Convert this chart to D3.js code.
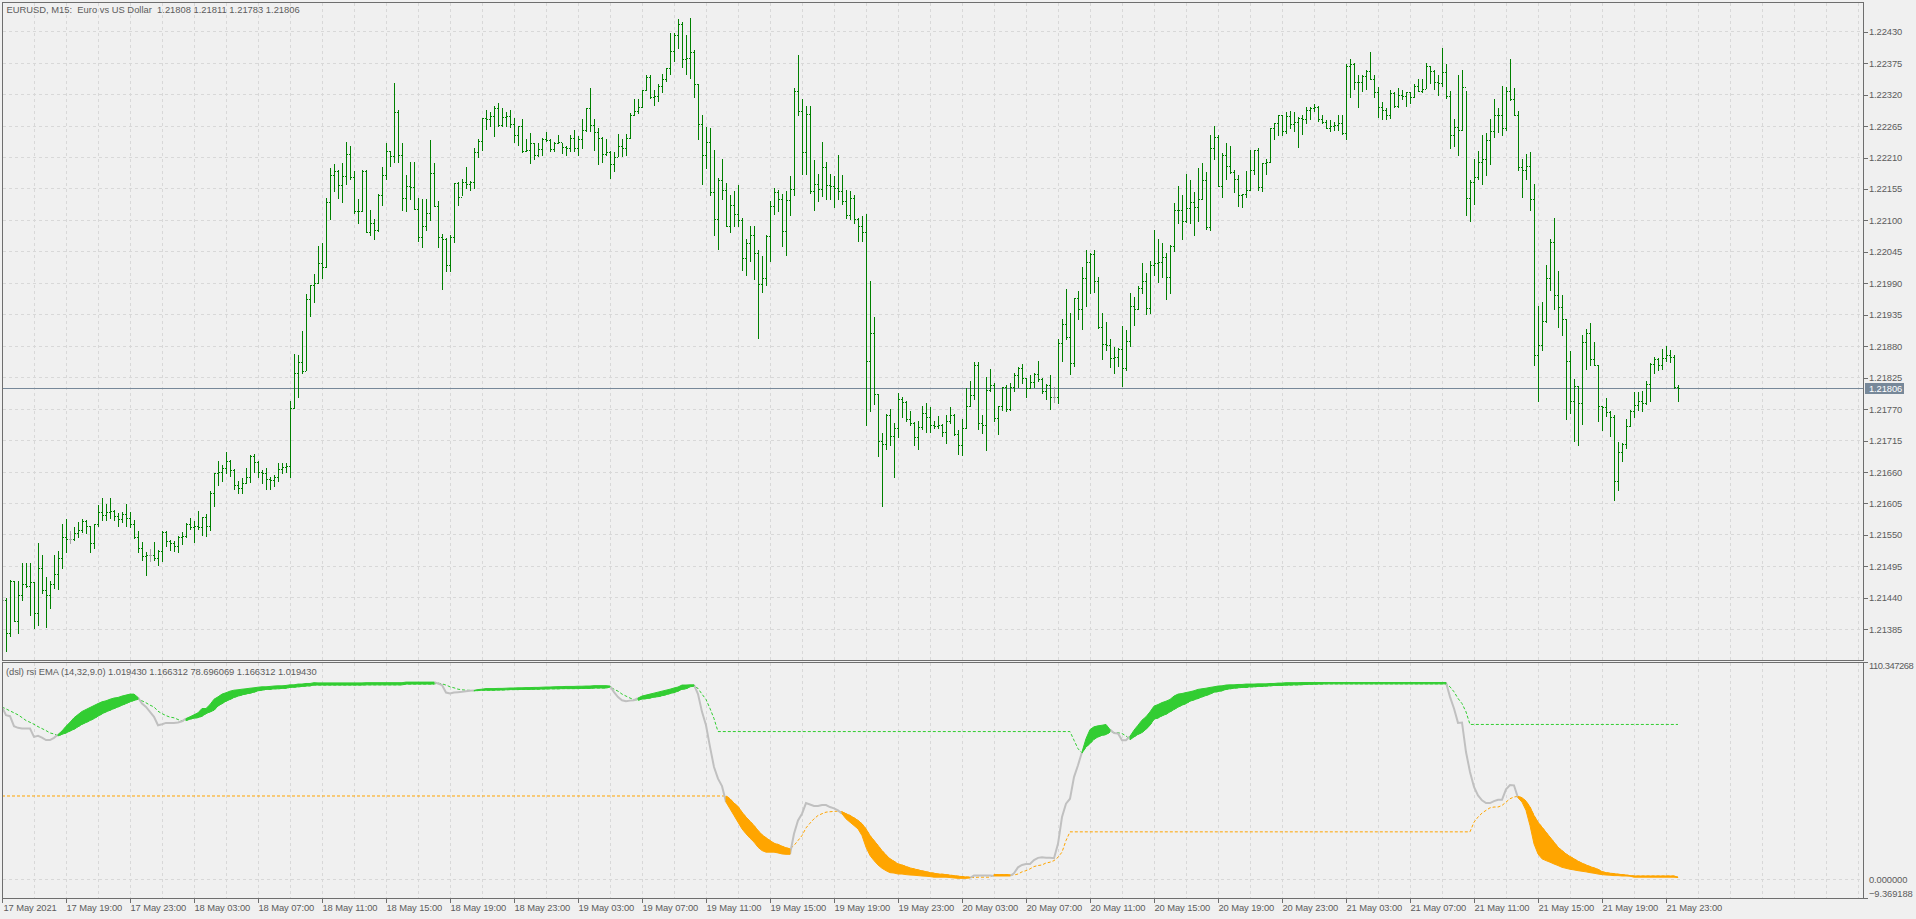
<!DOCTYPE html>
<html>
<head>
<meta charset="utf-8">
<title>EURUSD M15</title>
<script src="https://cdn.jsdelivr.net/npm/d3@7"></script>
<style>
  html, body { margin: 0; padding: 0; background: #f0f0f0; }
  svg { display: block; }
  text { font-family: "Liberation Sans", sans-serif; font-size: 9.4px; fill: #5c5c5c; letter-spacing: -0.1px; }
</style>
</head>
<body>
<svg id="chart" width="1916" height="919"></svg>
<script>
const chartTitle = "EURUSD, M15:  Euro vs US Dollar  1.21808 1.21811 1.21783 1.21806";
const indicatorTitle = "(dsl) rsi EMA (14,32,9.0) 1.019430 1.166312 78.696069 1.166312 1.019430";
const lastPrice = 1.21806;

const priceTicks = [1.2243, 1.22375, 1.2232, 1.22265, 1.2221, 1.22155, 1.221, 1.22045, 1.2199, 1.21935,
  1.2188, 1.21825, 1.2177, 1.21715, 1.2166, 1.21605, 1.2155, 1.21495, 1.2144, 1.21385];
const rsiTicks = [110.347268, 0, -9.369188];
const timeLabels = ["17 May 2021", "17 May 19:00", "17 May 23:00",
  "18 May 03:00", "18 May 07:00", "18 May 11:00", "18 May 15:00", "18 May 19:00", "18 May 23:00",
  "19 May 03:00", "19 May 07:00", "19 May 11:00", "19 May 15:00", "19 May 19:00", "19 May 23:00",
  "20 May 03:00", "20 May 07:00", "20 May 11:00", "20 May 15:00", "20 May 19:00", "20 May 23:00",
  "21 May 03:00", "21 May 07:00", "21 May 11:00", "21 May 15:00", "21 May 19:00", "21 May 23:00"];

// one value per M15 bar, first bar is 17 May 15:00 (sits under the left border)
const opens = [
1.21436,1.21436,1.21377,1.21468,1.21399,1.21444,1.21463,1.21459,1.21467,1.21412,
1.21491,1.21453,1.21444,1.21464,1.21481,1.21509,1.21545,1.21542,1.21542,1.21552,
1.21558,1.21573,1.21564,1.21535,1.21568,1.21590,1.21584,1.21590,1.21591,1.21582,
1.21577,1.21586,1.21579,1.21568,1.21545,1.21526,1.21512,1.21514,1.21514,1.21509,
1.21521,1.21555,1.21538,1.21535,1.21530,1.21546,1.21548,1.21568,1.21563,1.21564,
1.21563,1.21580,1.21564,1.21622,1.21657,1.21660,1.21666,1.21678,1.21662,1.21637,
1.21631,1.21640,1.21651,1.21688,1.21677,1.21660,1.21657,1.21647,1.21646,1.21650,
1.21664,1.21668,1.21669,1.21771,1.21832,1.21851,1.21835,1.21962,1.21986,1.21989,
1.22025,1.22018,1.22132,1.22179,1.22185,1.22161,1.22176,1.22216,1.22175,1.22115,
1.22116,1.22185,1.22079,1.22095,1.22082,1.22144,1.22179,1.22220,1.22211,1.22289,
1.22214,1.22139,1.22159,1.22158,1.22119,1.22070,1.22090,1.22112,1.22182,1.22125,
1.22070,1.22066,1.22021,1.22070,1.22164,1.22140,1.22167,1.22162,1.22167,1.22218,
1.22238,1.22278,1.22276,1.22281,1.22295,1.22266,1.22280,1.22281,1.22267,1.22248,
1.22264,1.22220,1.22223,1.22234,1.22213,1.22224,1.22242,1.22239,1.22224,1.22234,
1.22236,1.22227,1.22225,1.22244,1.22226,1.22241,1.22258,1.22296,1.22266,1.22253,
1.22244,1.22216,1.22219,1.22197,1.22210,1.22230,1.22225,1.22244,1.22284,1.22290,
1.22298,1.22328,1.22350,1.22315,1.22316,1.22335,1.22346,1.22366,1.22395,1.22423,
1.22443,1.22381,1.22383,1.22394,1.22337,1.22268,1.22213,1.22237,1.22148,1.22102,
1.22169,1.22153,1.22089,1.22126,1.22111,1.22100,1.22034,1.22060,1.22073,1.22042,
1.21988,1.21999,1.22072,1.22125,1.22148,1.22136,1.22081,1.22134,1.22154,1.22325,
1.22291,1.22219,1.22285,1.22150,1.22163,1.22154,1.22193,1.22161,1.22160,1.22156,
1.22151,1.22133,1.22108,1.22139,1.22101,1.22089,1.22079,1.21854,1.21903,1.21796,
1.21713,1.21708,1.21758,1.21722,1.21736,1.21786,1.21782,1.21751,1.21745,1.21720,
1.21738,1.21762,1.21755,1.21741,1.21740,1.21742,1.21729,1.21748,1.21759,1.21726,
1.21706,1.21736,1.21775,1.21793,1.21847,1.21745,1.21741,1.21803,1.21811,1.21753,
1.21775,1.21808,1.21770,1.21808,1.21828,1.21841,1.21824,1.21806,1.21816,1.21831,
1.21821,1.21801,1.21812,1.21790,1.21790,1.21884,1.21918,1.21895,1.21849,1.21963,
1.21944,1.21998,1.22026,1.22041,1.21994,1.21912,1.21883,1.21882,1.21859,1.21860,
1.21874,1.21841,1.21889,1.21949,1.21944,1.21981,1.21993,1.21946,1.22022,1.22025,
1.22026,1.22035,1.22000,1.22054,1.22117,1.22118,1.22098,1.22120,1.22132,1.22123,
1.22137,1.22169,1.22088,1.22226,1.22245,1.22160,1.22214,1.22195,1.22183,1.22172,
1.22143,1.22146,1.22153,1.22187,1.22222,1.22158,1.22200,1.22201,1.22261,1.22269,
1.22283,1.22255,1.22281,1.22268,1.22271,1.22278,1.22276,1.22293,1.22296,1.22298,
1.22276,1.22272,1.22261,1.22264,1.22266,1.22269,1.22252,1.22370,1.22373,1.22341,
1.22342,1.22351,1.22360,1.22347,1.22324,1.22298,1.22293,1.22283,1.22322,1.22299,
1.22319,1.22316,1.22324,1.22315,1.22335,1.22326,1.22329,1.22369,1.22361,1.22341,
1.22340,1.22359,1.22316,1.22249,1.22262,1.22257,1.22333,1.22139,1.22167,1.22175,
1.22202,1.22207,1.22239,1.22255,1.22284,1.22283,1.22261,1.22326,1.22312,1.22284,
1.22193,1.22188,1.22195,1.22137,1.21863,1.21881,1.21923,1.21998,1.22061,1.21968,
1.21948,1.21926,1.21853,1.21784,1.21809,1.21780,1.21886,1.21902,1.21857,1.21847,
1.21775,1.21772,1.21764,1.21755,1.21644,1.21694,1.21708,1.21740,1.21766,1.21777,
1.21784,1.21779,1.21813,1.21848,1.21856,1.21846,1.21858,1.21864,1.21861,1.21808];
const highs = [
1.21445,1.21439,1.21471,1.21468,1.21468,1.21500,1.21500,1.21500,1.21467,1.21535,
1.21514,1.21475,1.21468,1.21514,1.21521,1.21569,1.21577,1.21556,1.21563,1.21571,
1.21577,1.21575,1.21564,1.21569,1.21602,1.21614,1.21604,1.21614,1.21593,1.21587,
1.21590,1.21604,1.21589,1.21576,1.21556,1.21537,1.21520,1.21525,1.21537,1.21523,
1.21556,1.21556,1.21541,1.21538,1.21548,1.21554,1.21570,1.21579,1.21573,1.21591,
1.21581,1.21586,1.21626,1.21657,1.21679,1.21672,1.21694,1.21681,1.21665,1.21644,
1.21649,1.21666,1.21689,1.21691,1.21678,1.21662,1.21667,1.21651,1.21654,1.21675,
1.21675,1.21675,1.21784,1.21866,1.21863,1.21905,1.21971,1.21987,1.22005,1.22055,
1.22059,1.22139,1.22190,1.22197,1.22188,1.22199,1.22237,1.22230,1.22186,1.22136,
1.22187,1.22187,1.22118,1.22102,1.22146,1.22193,1.22235,1.22221,1.22340,1.22293,
1.22234,1.22179,1.22201,1.22202,1.22139,1.22137,1.22136,1.22239,1.22200,1.22133,
1.22076,1.22069,1.22074,1.22164,1.22166,1.22172,1.22193,1.22168,1.22226,1.22242,
1.22278,1.22293,1.22289,1.22300,1.22305,1.22296,1.22289,1.22293,1.22278,1.22264,
1.22276,1.22242,1.22252,1.22235,1.22234,1.22244,1.22254,1.22241,1.22237,1.22249,
1.22235,1.22230,1.22249,1.22258,1.22246,1.22276,1.22296,1.22331,1.22277,1.22261,
1.22245,1.22241,1.22220,1.22219,1.22251,1.22241,1.22250,1.22287,1.22311,1.22312,
1.22328,1.22354,1.22353,1.22328,1.22337,1.22356,1.22366,1.22427,1.22426,1.22452,
1.22446,1.22423,1.22453,1.22397,1.22338,1.22283,1.22263,1.22261,1.22223,1.22174,
1.22207,1.22165,1.22144,1.22151,1.22161,1.22104,1.22067,1.22090,1.22089,1.22047,
1.22037,1.22073,1.22133,1.22156,1.22153,1.22146,1.22151,1.22176,1.22331,1.22389,
1.22312,1.22300,1.22300,1.22204,1.22181,1.22237,1.22202,1.22181,1.22176,1.22213,
1.22179,1.22152,1.22151,1.22144,1.22104,1.22107,1.22111,1.21994,1.21930,1.21796,
1.21728,1.21761,1.21770,1.21745,1.21797,1.21790,1.21784,1.21766,1.21746,1.21749,
1.21774,1.21779,1.21772,1.21748,1.21757,1.21743,1.21759,1.21773,1.21761,1.21733,
1.21752,1.21806,1.21819,1.21852,1.21852,1.21758,1.21826,1.21839,1.21815,1.21775,
1.21808,1.21812,1.21814,1.21832,1.21843,1.21848,1.21824,1.21828,1.21832,1.21854,
1.21824,1.21813,1.21829,1.21808,1.21891,1.21926,1.21979,1.21937,1.21963,1.21976,
1.22017,1.22048,1.22042,1.22048,1.22001,1.21937,1.21921,1.21891,1.21877,1.21876,
1.21915,1.21908,1.21972,1.21966,1.21984,1.22024,1.22007,1.22028,1.22083,1.22067,
1.22060,1.22043,1.22057,1.22130,1.22160,1.22143,1.22181,1.22169,1.22149,1.22190,
1.22199,1.22183,1.22249,1.22265,1.22249,1.22217,1.22234,1.22230,1.22188,1.22179,
1.22146,1.22185,1.22223,1.22223,1.22225,1.22200,1.22207,1.22261,1.22269,1.22283,
1.22284,1.22289,1.22291,1.22289,1.22280,1.22283,1.22298,1.22298,1.22302,1.22300,
1.22283,1.22274,1.22274,1.22271,1.22284,1.22283,1.22373,1.22381,1.22375,1.22354,
1.22354,1.22363,1.22394,1.22354,1.22333,1.22306,1.22296,1.22328,1.22324,1.22331,
1.22328,1.22324,1.22324,1.22338,1.22347,1.22346,1.22374,1.22369,1.22362,1.22353,
1.22400,1.22372,1.22325,1.22277,1.22353,1.22363,1.22326,1.22169,1.22206,1.22220,
1.22248,1.22252,1.22276,1.22311,1.22296,1.22334,1.22333,1.22382,1.22331,1.22291,
1.22207,1.22216,1.22219,1.22162,1.21950,1.21957,1.22022,1.22067,1.22103,1.22011,
1.21969,1.21926,1.21870,1.21821,1.21809,1.21899,1.21910,1.21919,1.21886,1.21847,
1.21775,1.21789,1.21765,1.21759,1.21711,1.21710,1.21751,1.21768,1.21799,1.21799,
1.21801,1.21818,1.21850,1.21860,1.21858,1.21875,1.21880,1.21873,1.21863,1.21811];
const lows = [
1.21420,1.21347,1.21373,1.21398,1.21377,1.21435,1.21458,1.21410,1.21387,1.21392,
1.21447,1.21389,1.21422,1.21457,1.21455,1.21492,1.21520,1.21535,1.21540,1.21546,
1.21555,1.21553,1.21519,1.21527,1.21564,1.21576,1.21576,1.21579,1.21576,1.21564,
1.21571,1.21564,1.21563,1.21544,1.21520,1.21506,1.21479,1.21504,1.21506,1.21497,
1.21504,1.21529,1.21523,1.21521,1.21519,1.21534,1.21546,1.21560,1.21536,1.21560,
1.21549,1.21548,1.21557,1.21599,1.21637,1.21644,1.21657,1.21653,1.21629,1.21623,
1.21623,1.21640,1.21641,1.21660,1.21650,1.21640,1.21630,1.21630,1.21635,1.21643,
1.21657,1.21660,1.21651,1.21771,1.21790,1.21833,1.21837,1.21932,1.21956,1.21990,
1.21999,1.22018,1.22101,1.22150,1.22139,1.22131,1.22162,1.22172,1.22112,1.22094,
1.22115,1.22079,1.22073,1.22066,1.22080,1.22126,1.22171,1.22194,1.22202,1.22201,
1.22118,1.22115,1.22136,1.22119,1.22063,1.22052,1.22083,1.22100,1.22124,1.22052,
1.21980,1.22011,1.22010,1.22062,1.22126,1.22143,1.22155,1.22153,1.22155,1.22210,
1.22222,1.22259,1.22264,1.22246,1.22264,1.22264,1.22265,1.22263,1.22236,1.22231,
1.22218,1.22220,1.22200,1.22207,1.22211,1.22213,1.22238,1.22220,1.22221,1.22234,
1.22217,1.22213,1.22220,1.22220,1.22213,1.22226,1.22255,1.22255,1.22222,1.22197,
1.22201,1.22214,1.22173,1.22186,1.22211,1.22211,1.22213,1.22244,1.22284,1.22287,
1.22297,1.22327,1.22313,1.22301,1.22308,1.22323,1.22343,1.22356,1.22378,1.22400,
1.22367,1.22355,1.22348,1.22315,1.22242,1.22163,1.22190,1.22143,1.22074,1.22049,
1.22136,1.22089,1.22079,1.22089,1.22089,1.22013,1.22004,1.22028,1.21997,1.21894,
1.21974,1.21987,1.22028,1.22111,1.22115,1.22054,1.22039,1.22108,1.22144,1.22283,
1.22180,1.22181,1.22147,1.22118,1.22133,1.22141,1.22137,1.22137,1.22122,1.22137,
1.22127,1.22104,1.22102,1.22095,1.22063,1.22063,1.21741,1.21765,1.21778,1.21687,
1.21599,1.21699,1.21706,1.21650,1.21720,1.21755,1.21748,1.21741,1.21707,1.21700,
1.21734,1.21730,1.21730,1.21736,1.21737,1.21723,1.21710,1.21745,1.21724,1.21691,
1.21689,1.21736,1.21774,1.21786,1.21735,1.21728,1.21698,1.21800,1.21749,1.21726,
1.21768,1.21765,1.21768,1.21801,1.21807,1.21814,1.21791,1.21806,1.21807,1.21819,
1.21797,1.21787,1.21770,1.21781,1.21780,1.21854,1.21891,1.21831,1.21844,1.21927,
1.21910,1.21950,1.21973,1.21974,1.21911,1.21857,1.21873,1.21842,1.21832,1.21845,
1.21810,1.21837,1.21880,1.21917,1.21945,1.21972,1.21936,1.21938,1.22003,1.21991,
1.22001,1.21962,1.21973,1.22045,1.22094,1.22067,1.22096,1.22094,1.22073,1.22098,
1.22137,1.22084,1.22082,1.22207,1.22159,1.22140,1.22172,1.22182,1.22148,1.22124,
1.22122,1.22140,1.22152,1.22181,1.22153,1.22150,1.22181,1.22202,1.22241,1.22248,
1.22249,1.22252,1.22260,1.22256,1.22227,1.22251,1.22270,1.22276,1.22290,1.22273,
1.22269,1.22260,1.22255,1.22257,1.22258,1.22250,1.22241,1.22315,1.22329,1.22297,
1.22325,1.22329,1.22346,1.22315,1.22280,1.22276,1.22276,1.22278,1.22297,1.22298,
1.22311,1.22299,1.22304,1.22315,1.22325,1.22323,1.22331,1.22340,1.22329,1.22318,
1.22334,1.22313,1.22226,1.22229,1.22214,1.22258,1.22109,1.22098,1.22127,1.22172,
1.22162,1.22178,1.22197,1.22245,1.22253,1.22248,1.22257,1.22309,1.22284,1.22187,
1.22140,1.22171,1.22117,1.21847,1.21784,1.21873,1.21921,1.21978,1.21945,1.21912,
1.21899,1.21752,1.21763,1.21713,1.21707,1.21744,1.21840,1.21847,1.21846,1.21748,
1.21733,1.21757,1.21723,1.21610,1.21628,1.21678,1.21702,1.21739,1.21756,1.21768,
1.21765,1.21778,1.21784,1.21833,1.21837,1.21840,1.21853,1.21851,1.21806,1.21783];
const closes = [
1.21436,1.21377,1.21468,1.21399,1.21444,1.21463,1.21459,1.21467,1.21412,1.21491,
1.21453,1.21444,1.21464,1.21481,1.21509,1.21545,1.21542,1.21542,1.21552,1.21558,
1.21573,1.21564,1.21535,1.21568,1.21590,1.21584,1.21590,1.21591,1.21582,1.21577,
1.21586,1.21579,1.21568,1.21545,1.21526,1.21512,1.21514,1.21514,1.21509,1.21521,
1.21555,1.21538,1.21535,1.21530,1.21546,1.21548,1.21568,1.21563,1.21564,1.21563,
1.21580,1.21564,1.21622,1.21657,1.21660,1.21666,1.21678,1.21662,1.21637,1.21631,
1.21640,1.21651,1.21688,1.21677,1.21660,1.21657,1.21647,1.21646,1.21650,1.21664,
1.21668,1.21669,1.21771,1.21832,1.21851,1.21835,1.21962,1.21986,1.21989,1.22025,
1.22018,1.22132,1.22179,1.22185,1.22161,1.22176,1.22216,1.22175,1.22115,1.22116,
1.22185,1.22079,1.22095,1.22082,1.22144,1.22179,1.22220,1.22211,1.22289,1.22214,
1.22139,1.22159,1.22158,1.22119,1.22070,1.22090,1.22112,1.22182,1.22125,1.22070,
1.22066,1.22021,1.22070,1.22164,1.22140,1.22167,1.22162,1.22167,1.22218,1.22238,
1.22278,1.22276,1.22281,1.22295,1.22266,1.22280,1.22281,1.22267,1.22248,1.22264,
1.22220,1.22223,1.22234,1.22213,1.22224,1.22242,1.22239,1.22224,1.22234,1.22236,
1.22227,1.22225,1.22244,1.22226,1.22241,1.22258,1.22296,1.22266,1.22253,1.22244,
1.22216,1.22219,1.22197,1.22210,1.22230,1.22225,1.22244,1.22284,1.22290,1.22298,
1.22328,1.22350,1.22315,1.22316,1.22335,1.22346,1.22366,1.22395,1.22423,1.22443,
1.22381,1.22383,1.22394,1.22337,1.22268,1.22213,1.22237,1.22148,1.22102,1.22169,
1.22153,1.22089,1.22126,1.22111,1.22100,1.22034,1.22060,1.22073,1.22042,1.21988,
1.21999,1.22072,1.22125,1.22148,1.22136,1.22081,1.22134,1.22154,1.22325,1.22291,
1.22219,1.22285,1.22150,1.22163,1.22154,1.22193,1.22161,1.22160,1.22156,1.22151,
1.22133,1.22108,1.22139,1.22101,1.22089,1.22079,1.21854,1.21903,1.21796,1.21713,
1.21708,1.21758,1.21722,1.21736,1.21786,1.21782,1.21751,1.21745,1.21720,1.21738,
1.21762,1.21755,1.21741,1.21740,1.21742,1.21729,1.21748,1.21759,1.21726,1.21706,
1.21736,1.21775,1.21793,1.21847,1.21745,1.21741,1.21803,1.21811,1.21753,1.21775,
1.21808,1.21770,1.21808,1.21828,1.21841,1.21824,1.21806,1.21816,1.21831,1.21821,
1.21801,1.21812,1.21790,1.21790,1.21884,1.21918,1.21895,1.21849,1.21963,1.21944,
1.21998,1.22026,1.22041,1.21994,1.21912,1.21883,1.21882,1.21859,1.21860,1.21874,
1.21841,1.21889,1.21949,1.21944,1.21981,1.21993,1.21946,1.22022,1.22025,1.22026,
1.22035,1.22000,1.22054,1.22117,1.22118,1.22098,1.22120,1.22132,1.22123,1.22137,
1.22169,1.22088,1.22226,1.22245,1.22160,1.22214,1.22195,1.22183,1.22172,1.22143,
1.22146,1.22153,1.22187,1.22222,1.22158,1.22200,1.22201,1.22261,1.22269,1.22283,
1.22255,1.22281,1.22268,1.22271,1.22278,1.22276,1.22293,1.22296,1.22298,1.22276,
1.22272,1.22261,1.22264,1.22266,1.22269,1.22252,1.22370,1.22373,1.22341,1.22342,
1.22351,1.22360,1.22347,1.22324,1.22298,1.22293,1.22283,1.22322,1.22299,1.22319,
1.22316,1.22324,1.22315,1.22335,1.22326,1.22329,1.22369,1.22361,1.22341,1.22340,
1.22359,1.22316,1.22249,1.22262,1.22257,1.22333,1.22139,1.22167,1.22175,1.22202,
1.22207,1.22239,1.22255,1.22284,1.22283,1.22261,1.22326,1.22312,1.22284,1.22193,
1.22188,1.22195,1.22137,1.21863,1.21881,1.21923,1.21998,1.22061,1.21968,1.21948,
1.21926,1.21853,1.21784,1.21809,1.21780,1.21886,1.21902,1.21857,1.21847,1.21775,
1.21772,1.21764,1.21755,1.21644,1.21694,1.21708,1.21740,1.21766,1.21777,1.21784,
1.21779,1.21813,1.21848,1.21856,1.21846,1.21858,1.21864,1.21861,1.21808,1.21806];

const rsiValues = [
87.6,83.4,82.9,77.8,77,76.6,76.6,76.6,72.4,72.9,
72,70.8,70.8,71.9,73.6,75.4,77.8,79.8,82.1,83.7,
85.3,86.3,87.3,88.3,89.3,90.2,90.7,91.5,92.1,92.4,
93.1,93.6,94.1,94.1,92.4,89.3,87.6,85.1,82.6,78.3,
78.8,79.5,79.5,79.5,79.7,80.3,81.7,82.6,83.6,84.6,
86.8,86.8,88.8,91.5,92.7,94.1,94.8,95.6,96.1,96.3,
96.6,96.8,97.1,97.3,97.6,97.8,97.8,98,98.2,98.3,
98.3,98.5,98.8,98.8,99.2,99.2,99.5,99.5,99.9,99.8,
99.8,99.8,99.8,99.8,99.8,99.8,99.8,99.8,99.8,99.8,
99.8,99.9,99.9,99.9,99.9,99.9,99.9,99.9,99.9,99.9,
99.9,100.2,100.2,100.2,100.2,100.2,100.2,100.2,100.2,99.5,
98.7,94.9,94.4,94.9,95.1,95.3,95.6,95.8,96,96.4,
96.6,96.9,96.9,96.9,97,97,97.1,97.2,97.2,97.3,
97.3,97.4,97.4,97.5,97.5,97.6,97.7,97.7,97.8,97.9,
97.9,98,98,98,98.1,98.1,98.2,98.2,98.4,98.4,
98.4,98.4,98.2,95.1,92.6,91,90.5,90.8,91,92.1,
93.1,93.6,94.1,94.6,95.1,95.6,96.1,96.6,97.2,97.7,
98.7,98.7,98.8,98.8,94.1,85.1,78.3,67.3,57.1,51.2,
47.4,39.3,35.9,32.5,29.1,25.7,23.2,21,19,16.4,
14.7,13.9,13.9,13.9,13.5,13,12.8,12.8,23.2,30,
33.4,38.8,38.1,37.3,37.3,37.8,37.8,36.8,36.1,35.1,
33.4,30.8,29.1,27.4,25.7,22.3,16.4,12.2,9.6,7.4,
5.7,4.5,3.5,3.3,2.8,2.8,2.5,2.3,2.2,2,
1.8,1.7,1.5,1.2,1.2,1.2,1.2,1,0.8,0.6,
0.6,0.6,0.8,2,2,2,2,2,1.8,1.8,
1.8,1.8,1.8,3.2,6.2,7.4,7.9,7.9,9.9,11,
11.3,11,11,10.8,18.1,31.7,38.5,41,52,58,
64.7,71.5,76.1,77.5,78,78.3,78.7,76.1,74.4,74.1,
70.7,70.7,72.7,75.8,78.3,80.9,82.6,85.1,88,88.8,
89.8,90.5,91.4,93.1,94.1,94.4,94.9,95.3,95.8,96.5,
96.8,97.1,97.5,97.8,98.2,98.3,98.7,98.8,98.8,99,
99,99.2,99.2,99.2,99.3,99.3,99.3,99.5,99.5,99.7,
99.7,99.9,99.9,99.9,99.9,100,100,100,100,100,
100,100,100,100,100,100,100,100,100,100,
100,100,100,100,100,100,100,100,100,100,
100,100,100,100,100,100,100,100,100,100,
100,100,92.7,86.8,79.5,79.7,64.7,54.6,47,42.7,
40.2,38.8,38.8,39.8,40.5,40.5,45.8,48,47.8,41.5,
39.3,35.1,27.4,18.1,13,10.5,9.6,8.8,7.9,7.1,
6.2,5.7,5.2,4.9,4.5,4.2,3.9,3.5,3.2,2.8,
2.5,2.3,2.2,2,2,1.8,1.8,1.7,1.2,1.2,
1.2,1.2,1.2,1.2,1.2,1.2,1.2,1.2,1.2,1.019];
const levelUp = [
87.6,86.6,85.6,84.6,83.6,82.2,80.7,79.8,78.8,77.6,
76.6,75.6,74.4,73.9,72.9,73.7,74.4,75.4,76.3,77.5,
78.8,79.7,80.7,81.7,82.9,84.1,85.1,85.9,86.8,87.6,
88.5,89.3,90.2,90.9,91.5,90.7,89.7,88.5,87.6,85.4,
84.2,83.2,82.4,82.1,81.2,80.5,80.7,81.4,81.9,82.2,
82.9,84.2,85.1,85.9,88.1,89.3,90.5,91.4,92.4,93.1,
93.7,94.2,94.6,95.1,95.8,96.1,96.5,96.5,96.8,96.8,
97,97.1,97.5,97.6,97.8,98,98.2,98.3,98.7,98.7,
98.7,98.7,98.7,98.7,98.7,98.7,98.7,98.7,98.7,98.7,
98.7,98.8,98.8,98.8,98.8,98.8,98.8,98.8,98.8,98.8,
98.8,99.2,99.2,99.2,99.2,99.2,99.2,99.2,99.2,99.7,
99.3,98.7,97.8,97.3,96.6,96.3,96.1,96,95.8,95.9,
96.1,96.1,96.1,96.1,96.2,96.2,96.3,96.4,96.4,96.4,
96.5,96.5,96.5,96.6,96.6,96.7,96.7,96.8,96.8,96.8,
96.9,96.9,96.9,96.9,96.9,97,97,97,97.2,97.2,
97.2,97.2,97.7,96.6,95.6,94.1,93.1,92.1,91.3,91,
91.6,91.8,92.1,92.6,92.8,93.3,93.8,94.4,94.9,95.6,
96.6,96.8,97.8,98.2,97,94.1,91.4,86.8,81.7,75.1,
75.1,75.1,75.1,75.1,75.1,75.1,75.1,75.1,75.1,75.1,
75.1,75.1,75.1,75.1,75.1,75.1,75.1,75.1,75.1,75.1,
75.1,75.1,75.1,75.1,75.1,75.1,75.1,75.1,75.1,75.1,
75.1,75.1,75.1,75.1,75.1,75.1,75.1,75.1,75.1,75.1,
75.1,75.1,75.1,75.1,75.1,75.1,75.1,75.1,75.1,75.1,
75.1,75.1,75.1,75.1,75.1,75.1,75.1,75.1,75.1,75.1,
75.1,75.1,75.1,75.1,75.1,75.1,75.1,75.1,75.1,75.1,
75.1,75.1,75.1,75.1,75.1,75.1,75.1,75.1,75.1,75.1,
75.1,75.1,75.1,75.1,75.1,75.1,75.1,75.1,70.7,66.4,
64.2,67.3,69,71.2,72.4,73.2,73.6,74.8,74.6,74.5,
74.1,72.9,71,72.4,73.7,74.6,76.3,78.3,81.4,82,
83.1,83.9,85.1,86.3,87.5,88.5,89.3,90.5,91.2,91.9,
92.7,93.4,94.1,95.1,95.4,95.8,96.5,96.8,97.1,97.3,
97.5,97.5,97.8,97.8,98,98,98.2,98.3,98.5,98.5,
98.5,98.7,98.7,98.8,98.8,98.9,99,99.1,99.1,99.2,
99.2,99.3,99.3,99.3,99.3,99.3,99.3,99.3,99.3,99.3,
99.3,99.3,99.3,99.3,99.3,99.3,99.3,99.3,99.3,99.3,
99.3,99.3,99.3,99.3,99.3,99.3,99.3,99.3,99.3,99.3,
99.3,99.3,97.8,95.3,91.9,89.3,85.1,78.7,78.7,78.7,
78.7,78.7,78.7,78.7,78.7,78.7,78.7,78.7,78.7,78.7,
78.7,78.7,78.7,78.7,78.7,78.7,78.7,78.7,78.7,78.7,
78.7,78.7,78.7,78.7,78.7,78.7,78.7,78.7,78.7,78.7,
78.7,78.7,78.7,78.7,78.7,78.7,78.7,78.7,78.7,78.7,
78.7,78.7,78.7,78.7,78.7,78.7,78.7,78.7,78.7,78.696];
const levelDown = [
42.4,42.4,42.4,42.4,42.4,42.4,42.4,42.4,42.4,42.4,
42.4,42.4,42.4,42.4,42.4,42.4,42.4,42.4,42.4,42.4,
42.4,42.4,42.4,42.4,42.4,42.4,42.4,42.4,42.4,42.4,
42.4,42.4,42.4,42.4,42.4,42.4,42.4,42.4,42.4,42.4,
42.4,42.4,42.4,42.4,42.4,42.4,42.4,42.4,42.4,42.4,
42.4,42.4,42.4,42.4,42.4,42.4,42.4,42.4,42.4,42.4,
42.4,42.4,42.4,42.4,42.4,42.4,42.4,42.4,42.4,42.4,
42.4,42.4,42.4,42.4,42.4,42.4,42.4,42.4,42.4,42.4,
42.4,42.4,42.4,42.4,42.4,42.4,42.4,42.4,42.4,42.4,
42.4,42.4,42.4,42.4,42.4,42.4,42.4,42.4,42.4,42.4,
42.4,42.4,42.4,42.4,42.4,42.4,42.4,42.4,42.4,42.4,
42.4,42.4,42.4,42.4,42.4,42.4,42.4,42.4,42.4,42.4,
42.4,42.4,42.4,42.4,42.4,42.4,42.4,42.4,42.4,42.4,
42.4,42.4,42.4,42.4,42.4,42.4,42.4,42.4,42.4,42.4,
42.4,42.4,42.4,42.4,42.4,42.4,42.4,42.4,42.4,42.4,
42.4,42.4,42.4,42.4,42.4,42.4,42.4,42.4,42.4,42.4,
42.4,42.4,42.4,42.4,42.4,42.4,42.4,42.4,42.4,42.4,
42.4,42.4,42.4,42.4,42.4,42.4,42.4,42.4,42.4,42.4,
42.4,42.4,41,38.8,37.1,34.2,31.7,29.6,27.4,24.9,
22.7,21.2,19.8,18.4,17.8,16.9,16.1,15.6,17.3,19.8,
22.3,26.2,28.6,30.8,32.5,33.4,34.2,34.4,34.6,34.7,
34.4,33.4,32.5,31.3,30,28.3,25.7,22.3,19.8,17.3,
14.7,12.5,10.5,9.3,7.9,7.4,6.6,5.9,5.4,4.9,
4.4,4,3.5,3.2,2.8,2.7,2.5,2.2,2,1.7,
1.5,1.3,1.2,1,1.2,1.2,1.2,1.2,2.5,2.5,
2.5,2.5,2.4,2.3,2.8,3.9,4.5,5.4,6.6,7.1,
7.4,8.4,8.8,9.6,11.3,13.9,19.8,24.2,24.2,24.2,
24.2,24.2,24.2,24.2,24.2,24.2,24.2,24.2,24.2,24.2,
24.2,24.2,24.2,24.2,24.2,24.2,24.2,24.2,24.2,24.2,
24.2,24.2,24.2,24.2,24.2,24.2,24.2,24.2,24.2,24.2,
24.2,24.2,24.2,24.2,24.2,24.2,24.2,24.2,24.2,24.2,
24.2,24.2,24.2,24.2,24.2,24.2,24.2,24.2,24.2,24.2,
24.2,24.2,24.2,24.2,24.2,24.2,24.2,24.2,24.2,24.2,
24.2,24.2,24.2,24.2,24.2,24.2,24.2,24.2,24.2,24.2,
24.2,24.2,24.2,24.2,24.2,24.2,24.2,24.2,24.2,24.2,
24.2,24.2,24.2,24.2,24.2,24.2,24.2,24.2,24.2,24.2,
24.2,24.2,24.2,24.2,24.2,24.2,24.2,24.2,29.1,31.7,
33.7,35.1,36.4,36.8,36.8,37.6,39.3,41,41.9,42.2,
41.5,39.8,36.8,32.5,29.1,26.6,24,21.5,19,16.4,
14.7,13,11.7,10.5,9.3,8.3,7.4,6.6,5.9,5.2,
4,3.5,3.2,3,2.7,2.5,2.3,2,1.8,1.8,
1.8,1.8,1.8,1.8,1.8,1.8,1.8,1.8,1.8,1.166];

const svg = d3.select("#chart");

const left = 2, right = 1863, top1 = 2, bottom1 = 660, top2 = 662, bottom2 = 898;

// 4 px per bar, labels every 16 bars
const x = d3.scaleLinear().domain([0, 16]).range([2, 66]);
const y = d3.scaleLinear().domain([1.21385, 1.2243]).range([629.3, 31.7]);
const yRsi = d3.scaleLinear().domain([-9.369188, 110.347268]).range([898, 662.1]);

const crisp = v => Math.floor(v) + 0.5;

const defs = svg.append("defs");
defs.append("clipPath").attr("id", "clipPrice").append("rect")
  .attr("x", left + 1).attr("y", top1 + 1).attr("width", right - left - 1).attr("height", bottom1 - top1 - 1);
defs.append("clipPath").attr("id", "clipRsi").append("rect")
  .attr("x", left + 1).attr("y", top2 + 1).attr("width", right - left - 1).attr("height", bottom2 - top2 - 1);

// grid
const grid = svg.append("g")
  .attr("fill", "none")
  .attr("stroke", "#d8d8d8")
  .attr("stroke-dasharray", "3,3");

const gridBars = d3.range(8, 465, 8);
grid.selectAll(".v1").data(gridBars).enter().append("line")
  .attr("x1", d => x(d) + 0.5).attr("x2", d => x(d) + 0.5)
  .attr("y1", top1 + 1).attr("y2", bottom1);
grid.selectAll(".v2").data(gridBars).enter().append("line")
  .attr("x1", d => x(d) + 0.5).attr("x2", d => x(d) + 0.5)
  .attr("y1", top2 + 1).attr("y2", bottom2);
grid.selectAll(".h1").data(priceTicks).enter().append("line")
  .attr("x1", left + 1).attr("x2", right)
  .attr("y1", d => crisp(y(d))).attr("y2", d => crisp(y(d)));
grid.append("line")
  .attr("x1", left + 1).attr("x2", right)
  .attr("y1", crisp(yRsi(0))).attr("y2", crisp(yRsi(0)));

// price line under the bars
svg.append("line")
  .attr("x1", left + 1).attr("x2", right)
  .attr("y1", crisp(y(lastPrice))).attr("y2", crisp(y(lastPrice)))
  .attr("stroke", "#778899");

// OHLC bars
const bars = closes.map((c, i) => ({ i, o: opens[i], h: highs[i], l: lows[i], c }));
const barColor = d => (d.o === d.c ? "#a9a9a9" : "#008000");

const priceG = svg.append("g").attr("clip-path", "url(#clipPrice)");
priceG.selectAll(".bar").data(bars).enter().append("rect")
  .attr("class", "bar")
  .attr("x", d => x(d.i))
  .attr("y", d => Math.floor(y(d.h)))
  .attr("width", 1)
  .attr("height", d => Math.floor(y(d.l)) - Math.floor(y(d.h)) + 1)
  .attr("fill", barColor);
priceG.selectAll(".open").data(bars).enter().append("rect")
  .attr("class", "open")
  .attr("x", d => x(d.i) - 1)
  .attr("y", d => Math.floor(y(d.o)))
  .attr("width", 1).attr("height", 1)
  .attr("fill", barColor);
priceG.selectAll(".close").data(bars).enter().append("rect")
  .attr("class", "close")
  .attr("x", d => x(d.i) + 1)
  .attr("y", d => Math.floor(y(d.c)))
  .attr("width", 1).attr("height", 1)
  .attr("fill", barColor);

// indicator
const rsiRows = rsiValues.map((v, i) => ({ i, v, up: levelUp[i], dn: levelDown[i] }));
const isUp = d => d.v > d.up;
const isDown = d => d.v < d.dn;

const rsiG = svg.append("g").attr("clip-path", "url(#clipRsi)");

const levelLine = key => d3.line().x(d => x(d.i)).y(d => yRsi(d[key]));
rsiG.append("path").datum(rsiRows)
  .attr("d", levelLine("up"))
  .attr("fill", "none").attr("stroke", "#32cd32").attr("stroke-dasharray", "3,2");
rsiG.append("path").datum(rsiRows)
  .attr("d", levelLine("dn"))
  .attr("fill", "none").attr("stroke", "#ffa500").attr("stroke-dasharray", "3,2");

// neutral stretches keep one bar of overlap with the bands so the line stays joined
const neutral = (d, i) => {
  const inBand = r => r && (isUp(r) || isDown(r));
  return !inBand(d) || !inBand(rsiRows[i - 1]) || !inBand(rsiRows[i + 1]);
};
rsiG.append("path").datum(rsiRows)
  .attr("d", d3.line().defined(neutral).x(d => x(d.i)).y(d => yRsi(d.v)))
  .attr("fill", "none").attr("stroke", "#c0c0c0").attr("stroke-width", 2);

rsiG.append("path").datum(rsiRows)
  .attr("d", d3.area().defined(isUp).x(d => x(d.i)).y0(d => yRsi(d.up)).y1(d => yRsi(d.v)))
  .attr("fill", "#32cd32").attr("stroke", "#32cd32");
rsiG.append("path").datum(rsiRows)
  .attr("d", d3.area().defined(isDown).x(d => x(d.i)).y0(d => yRsi(d.dn)).y1(d => yRsi(d.v)))
  .attr("fill", "#ffa500").attr("stroke", "#ffa500");

// borders
const frame = svg.append("g")
  .attr("fill", "none")
  .attr("stroke", "#6e6e6e")
  .attr("shape-rendering", "crispEdges");
frame.append("rect").attr("x", left + 0.5).attr("y", top1 + 0.5)
  .attr("width", right - left).attr("height", bottom1 - top1);
frame.append("rect").attr("x", left + 0.5).attr("y", top2 + 0.5)
  .attr("width", right - left).attr("height", bottom2 - top2);

// axes
const priceAxis = d3.axisRight(y)
  .tickValues(priceTicks)
  .tickFormat(d3.format(".5f"))
  .tickSize(5)
  .tickPadding(1);
const priceAxisG = svg.append("g").attr("transform", `translate(${right},0)`).call(priceAxis);

const rsiAxis = d3.axisRight(yRsi)
  .tickValues(rsiTicks)
  .tickFormat(d3.format(".6f"))
  .tickSize(5)
  .tickPadding(1);
const rsiAxisG = svg.append("g").attr("transform", `translate(${right},0)`).call(rsiAxis);
rsiAxisG.selectAll(".tick").filter(d => d === 0).select("line").remove();
rsiAxisG.selectAll(".tick text")
  .attr("dy", d => (d === 110.347268 ? "0.72em" : d === 0 ? "0.32em" : "-0.2em"))
  .style("letter-spacing", d => (d === 110.347268 ? "-0.45px" : null));

const timeAxis = d3.axisBottom(x)
  .tickValues(timeLabels.map((_, k) => k * 16))
  .tickFormat((d, k) => timeLabels[k])
  .tickSize(5)
  .tickPadding(1);
const timeAxisG = svg.append("g").attr("transform", `translate(0,${bottom2})`).call(timeAxis);
timeAxisG.selectAll("text").attr("text-anchor", "start").attr("x", d => (d === 0 ? 1 : 0));

[priceAxisG, rsiAxisG, timeAxisG].forEach(g => {
  g.attr("font-family", null).attr("font-size", null);
  g.select(".domain").remove();
  g.selectAll("line").attr("stroke", "#6e6e6e").attr("shape-rendering", "crispEdges");
});

// last price label
svg.append("rect")
  .attr("x", right + 2).attr("y", Math.floor(y(lastPrice)) - 5)
  .attr("width", 39).attr("height", 11)
  .attr("fill", "#778899");
svg.append("text")
  .attr("x", right + 6).attr("y", y(lastPrice) + 3.4)
  .style("fill", "#fff")
  .text(d3.format(".5f")(lastPrice));

// titles
svg.append("text").attr("x", 6.5).attr("y", 13).style("white-space", "pre").style("letter-spacing", "0px").text(chartTitle);
svg.append("text").attr("x", 6).attr("y", 675).style("white-space", "pre").style("letter-spacing", "-0.06px").text(indicatorTitle);
</script>
</body>
</html>
